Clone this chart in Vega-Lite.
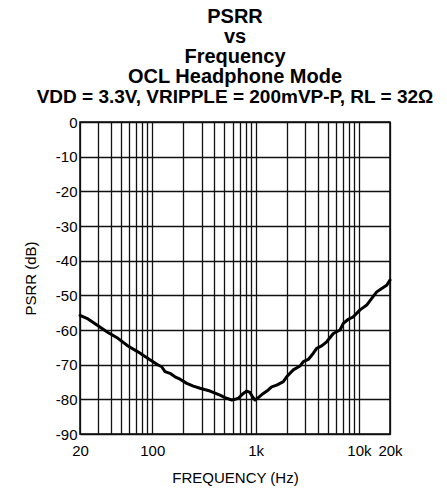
{
  "$schema": "https://vega.github.io/schema/vega-lite/v6.json",
  "width": 310,
  "height": 312,
  "autosize": {"type": "none"},
  "padding": {"left": 80, "top": 122, "right": 57, "bottom": 55},
  "background": "white",
  "title": {
    "text": ["PSRR", "vs", "Frequency", "OCL Headphone Mode"],
    "subtitle": "VDD = 3.3V, VRIPPLE = 200mVP-P, RL = 32Ω",
    "font": "Liberation Sans",
    "fontSize": 20,
    "fontWeight": "bold",
    "lineHeight": 20,
    "color": "black",
    "subtitleFont": "Liberation Sans",
    "subtitleFontSize": 19,
    "subtitleFontWeight": "bold",
    "subtitleColor": "black",
    "subtitlePadding": 1,
    "anchor": "middle",
    "offset": 8
  },
  "data": {
    "values": [
      {"f": 20, "db": -55.8},
      {"f": 23.9, "db": -56.8},
      {"f": 29.9, "db": -58.8},
      {"f": 37.3, "db": -60.7},
      {"f": 46.6, "db": -62.4},
      {"f": 58.3, "db": -64.6},
      {"f": 72.8, "db": -66.3},
      {"f": 91, "db": -68.2},
      {"f": 114, "db": -70.1},
      {"f": 123.5, "db": -70.6},
      {"f": 133, "db": -72.0},
      {"f": 148.6, "db": -72.5},
      {"f": 166, "db": -73.5},
      {"f": 186, "db": -74.2},
      {"f": 216, "db": -75.4},
      {"f": 250, "db": -76.2},
      {"f": 290, "db": -76.8},
      {"f": 362, "db": -77.6},
      {"f": 453, "db": -78.8},
      {"f": 506, "db": -79.5},
      {"f": 588, "db": -80.2},
      {"f": 632, "db": -80.0},
      {"f": 681, "db": -79.7},
      {"f": 761, "db": -78.3},
      {"f": 821, "db": -77.6},
      {"f": 883, "db": -78.0},
      {"f": 931, "db": -79.2},
      {"f": 988, "db": -80.2},
      {"f": 1064, "db": -79.5},
      {"f": 1189, "db": -78.3},
      {"f": 1328, "db": -77.3},
      {"f": 1432, "db": -76.4},
      {"f": 1603, "db": -75.9},
      {"f": 1856, "db": -74.9},
      {"f": 2000, "db": -73.5},
      {"f": 2318, "db": -71.5},
      {"f": 2692, "db": -70.4},
      {"f": 2898, "db": -69.1},
      {"f": 3238, "db": -68.5},
      {"f": 3622, "db": -66.7},
      {"f": 3904, "db": -65.3},
      {"f": 4364, "db": -64.6},
      {"f": 4878, "db": -63.4},
      {"f": 5658, "db": -61.0},
      {"f": 6561, "db": -60.0},
      {"f": 7070, "db": -58.1},
      {"f": 7904, "db": -56.9},
      {"f": 8832, "db": -56.2},
      {"f": 10256, "db": -54.2},
      {"f": 11910, "db": -52.8},
      {"f": 13312, "db": -50.9},
      {"f": 14872, "db": -49.0},
      {"f": 16636, "db": -48.0},
      {"f": 18580, "db": -47.1},
      {"f": 20000, "db": -45.6}
    ]
  },
  "mark": {"type": "line", "color": "black", "strokeWidth": 3, "strokeJoin": "round", "strokeCap": "round"},
  "encoding": {
    "x": {
      "field": "f",
      "type": "quantitative",
      "scale": {"type": "log", "domain": [20, 20000], "nice": false},
      "axis": {
        "title": "FREQUENCY (Hz)",
        "values": [20, 30, 40, 50, 60, 70, 80, 90, 100, 200, 300, 400, 500, 600, 700, 800, 900, 1000, 2000, 3000, 4000, 5000, 6000, 7000, 8000, 9000, 10000, 20000],
        "labelExpr": "datum.value == 20 ? '20' : datum.value == 100 ? '100' : datum.value == 1000 ? '1k' : datum.value == 10000 ? '10k' : datum.value == 20000 ? '20k' : ''",
        "labelPadding": 9,
        "titlePadding": 12,
        "labelOverlap": false,
        "labelFlush": false
      }
    },
    "y": {
      "field": "db",
      "type": "quantitative",
      "scale": {"domain": [-90, 0], "nice": false},
      "axis": {
        "title": "PSRR (dB)",
        "values": [0, -10, -20, -30, -40, -50, -60, -70, -80, -90],
        "labelExpr": "'' + datum.value",
        "labelPadding": 3,
        "titlePadding": 17,
        "labelOverlap": false
      }
    }
  },
  "config": {
    "view": {"stroke": "black", "strokeWidth": 1.5},
    "axis": {
      "grid": true,
      "gridColor": "#111111",
      "gridWidth": 1.3,
      "gridOpacity": 1,
      "domain": false,
      "ticks": false,
      "labelFont": "Liberation Sans",
      "labelFontSize": 15,
      "labelColor": "black",
      "titleFont": "Liberation Sans",
      "titleFontSize": 15,
      "titleFontWeight": "normal",
      "titleColor": "black"
    }
  }
}
